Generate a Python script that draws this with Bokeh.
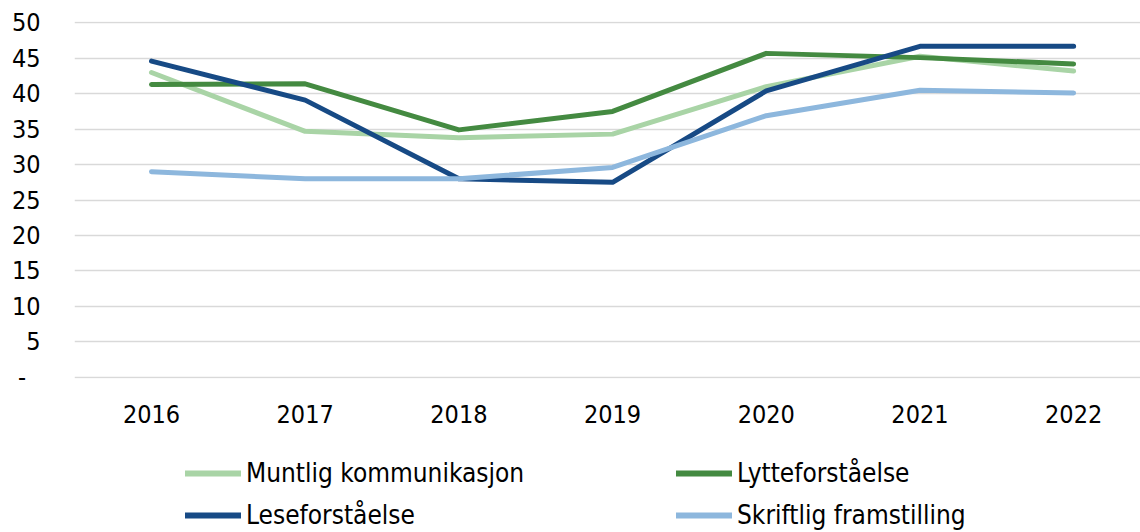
from bokeh.plotting import figure
from bokeh.models import Legend, LegendItem, FixedTicker, Range1d
from bokeh.layouts import column
from bokeh.embed import file_html
from bokeh.resources import INLINE

years = [2016, 2017, 2018, 2019, 2020, 2021, 2022]
muntlig = [43.0, 34.7, 33.8, 34.3, 41.0, 45.3, 43.2]
lytte = [41.3, 41.4, 34.9, 37.5, 45.7, 45.1, 44.2]
lese = [44.6, 39.1, 28.0, 27.5, 40.4, 46.7, 46.7]
skriftlig = [29.0, 28.0, 28.0, 29.6, 36.9, 40.5, 40.1]
y_ticks = [0, 5, 10, 15, 20, 25, 30, 35, 40, 45, 50]

names = ["Muntlig kommunikasjon", "Lytteforståelse", "Leseforståelse", "Skriftlig framstilling"]
colors = ["#A9D4A6", "#448A41", "#174A85", "#8DB7DD"]
series = [muntlig, lytte, lese, skriftlig]
legend_order = [0, 2, 1, 3]  # legend fills column by column

FONT = "DejaVu Sans Condensed"
X0, X1 = 2015.499, 2022.435

p = figure(width=1140, height=440, output_backend="svg", toolbar_location=None,
           x_range=Range1d(X0, X1), y_range=Range1d(-0.2, 50.2),
           min_border_left=74, min_border_right=0, min_border_top=21, min_border_bottom=62)
p.outline_line_color = None
p.background_fill_color = "white"
p.border_fill_color = "white"

for vals, c in zip(series, colors):
    p.line(years, vals, line_color=c, line_width=5, line_cap="round", line_join="round")

p.xgrid.grid_line_color = None
p.ygrid.grid_line_color = "#D9D9D9"
p.ygrid.grid_line_width = 1.5

p.xaxis.ticker = FixedTicker(ticks=years)
p.yaxis.ticker = FixedTicker(ticks=y_ticks)
p.yaxis.major_label_overrides = {0: "-\u2007"}
for ax in (p.xaxis, p.yaxis):
    ax.axis_line_color = None
    ax.major_tick_line_color = None
    ax.minor_tick_line_color = None
    ax.major_label_text_font = FONT
    ax.major_label_text_font_size = "25px"
    ax.major_label_text_color = "#000000"
p.xaxis.major_label_standoff = 20
p.yaxis.major_label_standoff = 28

# legend strip below the chart
q = figure(width=1140, height=92, output_backend="svg", toolbar_location=None,
           x_range=Range1d(X0, X1), y_range=Range1d(100, 101),
           x_axis_location=None, y_axis_location=None,
           min_border_left=0, min_border_right=0, min_border_top=0, min_border_bottom=0)
q.outline_line_color = None
q.xgrid.grid_line_color = None
q.ygrid.grid_line_color = None
q.border_fill_color = "white"

lr = []
for vals, c in zip(series, colors):
    lr.append(q.line(years, vals, line_color=c, line_width=6, line_cap="round"))

items = [LegendItem(label=names[i], renderers=[lr[i]]) for i in legend_order]
legend = Legend(items=items, ncols=2, location=(111, 2),
                glyph_width=56, glyph_height=30, label_standoff=5,
                label_width=418, label_height=30, spacing=12,
                padding=0, margin=0, border_line_color=None,
                background_fill_alpha=0,
                label_text_font=FONT, label_text_font_size="26px",
                label_text_color="#000000")
q.add_layout(legend, "center")

layout = column(p, q, spacing=0)
open("out.html", "w").write(file_html(layout, INLINE))
